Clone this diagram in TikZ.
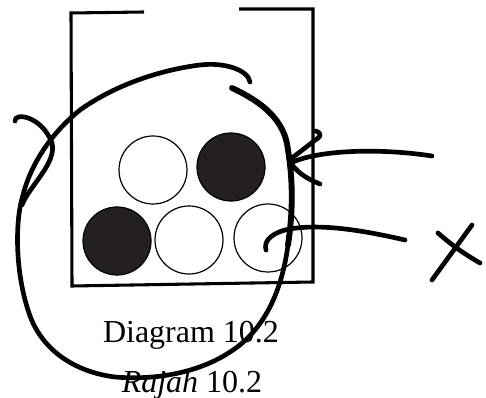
\documentclass[tikz,border=0pt]{standalone}
\usepackage{fontspec}
\setmainfont{Liberation Serif}
\usepackage{tikz}

\begin{document}
\begin{tikzpicture}[x=0.75pt,y=0.75pt,yscale=-1.0,xscale=1.0,
  wall/.style={line width=2.3pt},
  ball/.style={circle,draw,line width=0.9pt,minimum size=51pt,inner sep=0pt},
  darkball/.style={ball,fill={rgb,255:red,36;green,32;blue,32}},
  pen/.style={line width=3.5pt,line cap=round,line join=round},
  caption/.style={anchor=base,inner sep=0pt,font=\fontsize{24}{28}\selectfont}]
\useasboundingbox (0,0) rectangle (486,398);
% container
\draw[wall] (144,12) -- (71,13) -- (72,286) -- (313,282) -- (313,9) -- (239,9);
% balls
\node[ball] (w1) at (153,170) {};
\node[darkball] (d1) at (231,167) {};
\node[darkball] (d2) at (117,241) {};
\node[ball] (w2) at (189,240) {};
\node[ball] (w3) at (268,238) {};
% captions
\node[caption] (diagramcap) at (191,343) {Diagram 10.2};
\node[caption] (rajahcap) at (192,393) {\textit{Rajah} 10.2};
% pen marks
\draw[pen] (232,88) .. controls (262,102) and (285,120) .. (288,150)
  .. controls (292,175) and (294,205) .. (288,245)
  .. controls (282,290) and (265,330) .. (230,352)
  .. controls (195,375) and (150,380) .. (115,377)
  .. controls (75,372) and (40,350) .. (28,310)
  .. controls (15,270) and (15,220) .. (23,195)
  .. controls (32,160) and (55,130) .. (80,110)
  .. controls (115,85) and (160,70) .. (200,65)
  .. controls (225,62) and (248,70) .. (250,82);
\draw[pen,line width=4.4pt] (232,88) .. controls (262,102) and (285,120) .. (288,150)
  .. controls (292,175) and (294,205) .. (288,245);
\draw[pen] (15,121) .. controls (14,112) and (42,116) .. (52,143) .. controls (57,163) and (30,185) .. (22,205);
\draw[pen] (432,156) .. controls (380,148) and (320,150) .. (293,162);
\draw[pen] (316,131) .. controls (321,133) and (321,136) .. (318,138) -- (292,158);
\draw[pen] (320,184) .. controls (305,178) and (298,172) .. (293,166);
\draw[pen] (405,240) .. controls (370,232) and (320,222) .. (285,230) .. controls (268,235) and (264,243) .. (266,250);
\draw[pen] (472,225) -- (432,280);
\draw[pen] (438,233) .. controls (455,248) and (468,256) .. (480,263);
\end{tikzpicture}
\end{document}
